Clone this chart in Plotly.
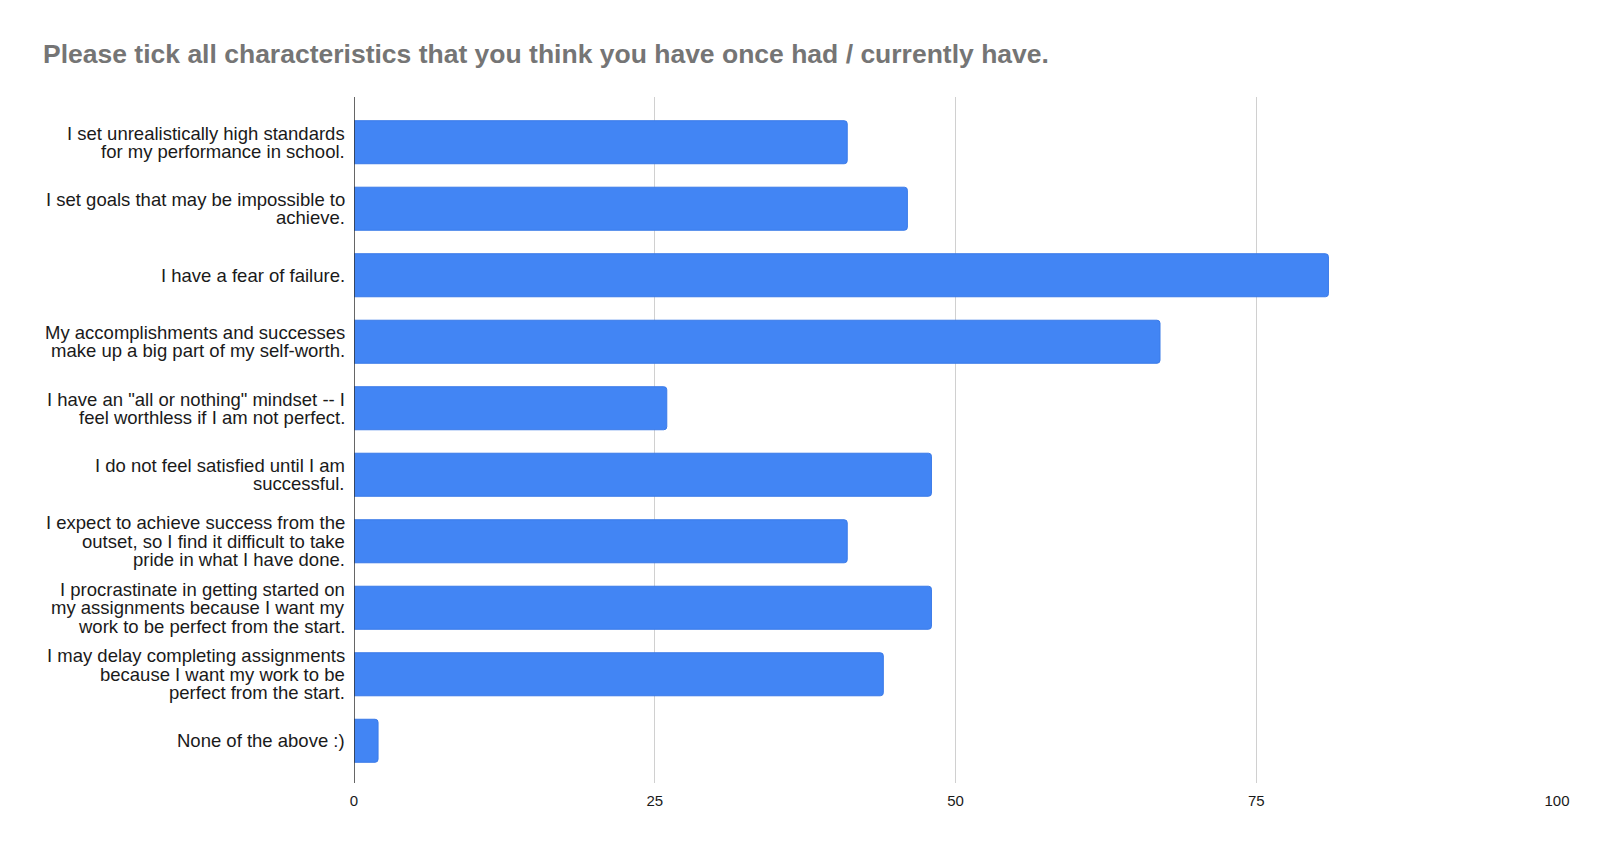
"""
Gráfico de barras horizontais - características de perfeccionismo
"""
import plotly.graph_objects as go

# Dados
labels = [
    "I set unrealistically high standards\nfor my performance in school.",
    "I set goals that may be impossible to\nachieve.",
    "I have a fear of failure.",
    "My accomplishments and successes\nmake up a big part of my self-worth.",
    "I have an \"all or nothing\" mindset -- I\nfeel worthless if I am not perfect.",
    "I do not feel satisfied until I am\nsuccessful.",
    "I expect to achieve success from the\noutset, so I find it difficult to take\npride in what I have done.",
    "I procrastinate in getting started on\nmy assignments because I want my\nwork to be perfect from the start.",
    "I may delay completing assignments\nbecause I want my work to be\nperfect from the start.",
    "None of the above :)",
]
counts = [41, 46, 81, 67, 26, 48, 41, 48, 44, 2]
x_ticks = [0, 25, 50, 75, 100]

title_text = "Please tick all characteristics that you think you have once had / currently have."

BAR_COLOR = "#4285F4"
FONT = "Arial, Liberation Sans, sans-serif"
LINE_H = 18.3

# a página tem margem de 8px no body
W, H = 1584, 836

fig = go.Figure()

fig.add_trace(go.Bar(
    x=counts,
    y=labels,
    orientation='h',
    marker=dict(color=BAR_COLOR, line=dict(color="#3a7ae8", width=1), cornerradius=3),
    hoverinfo='x+y',
    name=''
))

# Rótulos do eixo y como anotações (espaçamento entre linhas mais apertado)
for lab in labels:
    lines = lab.split("\n")
    n = len(lines)
    for i, line in enumerate(lines):
        fig.add_annotation(
            x=0, xref='paper',
            y=lab, yref='y',
            text=line,
            showarrow=False,
            xanchor='right',
            yanchor='middle',
            xshift=-7,
            yshift=-(i - (n - 1) / 2) * LINE_H,
            font=dict(family=FONT, size=18.5, color="#1a1a1a")
        )

fig.update_layout(
    title=dict(
        text=title_text,
        x=35 / W, xanchor='left',
        y=1 - 46 / H, yanchor='middle',
        font=dict(family=FONT, size=26.5, color="#757575", weight='bold')
    ),
    width=W, height=H,
    margin=dict(l=346, r=35, t=89, b=61),
    plot_bgcolor='white',
    paper_bgcolor='white',
    bargap=0.353,
    showlegend=False,
    font=dict(family=FONT)
)

fig.update_xaxes(
    range=[0, 100],
    tickvals=x_ticks,
    showgrid=True, gridcolor='#d0d0d0', gridwidth=1,
    zeroline=False,
    ticks='',
    ticklabelstandoff=7,
    tickfont=dict(family=FONT, size=15, color="#1a1a1a"),
)

fig.update_yaxes(
    range=[len(labels) - 1 + 0.635, -0.68],
    showticklabels=False,
    showgrid=False,
    ticks='',
    showline=False,
    zeroline=False,
)

# Linha do eixo em x=0
fig.add_shape(type='line', xref='x', yref='paper', x0=0, x1=0, y0=0, y1=1,
              line=dict(color='#333333', width=1.5))

fig.write_html("out.html")
